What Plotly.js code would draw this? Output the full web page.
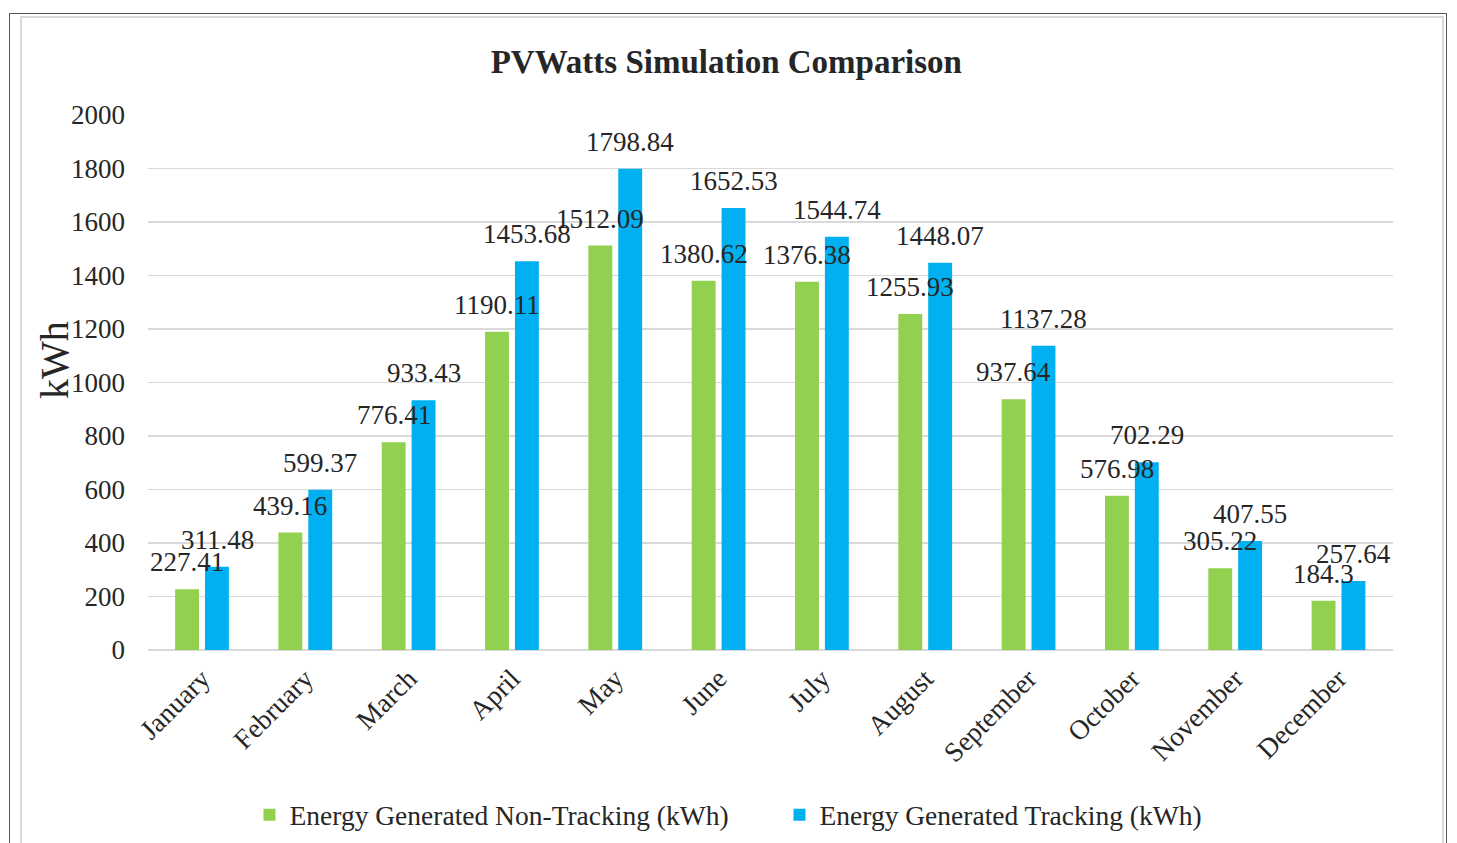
<!DOCTYPE html>
<html>
<head>
<meta charset="utf-8">
<script src="https://cdn.plot.ly/plotly-3.0.1.min.js"></script>
<style>
  html, body { margin: 0; padding: 0; background: #ffffff; }
  #wrap { position: relative; width: 1457px; height: 843px; overflow: hidden; }
  #outer { position: absolute; left: 9px; top: 13px; width: 1436px; height: 900px;
           border-left: 1.5px solid #555; border-top: 1.5px solid #555; border-right: 1.5px solid #555; }
  #inner { position: absolute; left: 20px; top: 16px; width: 1420px; height: 900px;
           border-left: 2px solid #d9d9d9; border-top: 2px solid #d9d9d9; border-right: 2px solid #d9d9d9; }
  #chart { position: absolute; left: 0; top: 0; width: 1457px; height: 843px; }
</style>
</head>
<body>
<div id="wrap">
  <div id="outer"></div>
  <div id="inner"></div>
  <div id="chart"></div>
</div>
<script>
const months = ["January","February","March","April","May","June","July","August","September","October","November","December"];
const nonTracking = [227.41, 439.16, 776.41, 1190.11, 1512.09, 1380.62, 1376.38, 1255.93, 937.64, 576.98, 305.22, 184.3];
const tracking = [311.48, 599.37, 933.43, 1453.68, 1798.84, 1652.53, 1544.74, 1448.07, 1137.28, 702.29, 407.55, 257.64];
const yTicks = [0, 200, 400, 600, 800, 1000, 1200, 1400, 1600, 1800, 2000];
const seriesNames = ["Energy Generated Non-Tracking (kWh)", "Energy Generated Tracking (kWh)"];

const FONT = "'Liberation Serif', 'Times New Roman', serif";
const TXT = "#262626";
const GREEN = "#92D050";
const BLUE = "#00B0F0";

const traces = [
  { type: "bar", name: seriesNames[0], x: months, y: nonTracking, marker: { color: GREEN }, hoverinfo: "none" },
  { type: "bar", name: seriesNames[1], x: months, y: tracking, marker: { color: BLUE }, hoverinfo: "none" }
];

const annotations = [];
months.forEach((m, i) => {
  annotations.push({ x: m, y: nonTracking[i], xref: "x", yref: "y", text: String(nonTracking[i]),
    showarrow: false, xshift: -15, yshift: 10, yanchor: "bottom", xanchor: "center",
    font: { family: FONT, size: 27, color: TXT } });
  annotations.push({ x: m, y: tracking[i], xref: "x", yref: "y", text: String(tracking[i]),
    showarrow: false, xshift: 15, yshift: 10, yanchor: "bottom", xanchor: "center",
    font: { family: FONT, size: 27, color: TXT } });
});
annotations.push({ xref: "paper", yref: "paper", x: -0.0755, y: 0.542, xanchor: "center", yanchor: "middle",
  text: "kWh", textangle: -90, showarrow: false, font: { family: FONT, size: 40, color: TXT } });

const layout = {
  width: 1457, height: 843,
  margin: { l: 148, r: 64, t: 115, b: 193, autoexpand: false },
  paper_bgcolor: "rgba(0,0,0,0)",
  plot_bgcolor: "rgba(0,0,0,0)",
  font: { family: FONT, color: TXT, size: 27 },
  title: { text: "<b>PVWatts Simulation Comparison</b>", x: 0.4985, xanchor: "center", y: 0.927, yanchor: "middle",
           font: { family: FONT, size: 33, color: TXT } },
  barmode: "group",
  bargap: 0.4217,
  bargroupgap: 0.2,
  showlegend: true,
  legend: { orientation: "h", x: 0.0815, xanchor: "left", y: -0.308, yanchor: "middle",
            font: { family: FONT, size: 27.5, color: TXT }, itemwidth: 30, entrywidth: 485, traceorder: "normal" },
  xaxis: { type: "category", tickangle: -45, showgrid: false, showline: false, zeroline: false, automargin: false,
           ticks: "", ticklabelstandoff: 6, tickfont: { family: FONT, size: 27.5, color: TXT } },
  yaxis: { range: [0, 2000], tickvals: yTicks, ticktext: yTicks.map(String), showgrid: true,
           gridcolor: "#d9d9d9", gridwidth: 1.5, zeroline: true, zerolinecolor: "#d9d9d9", zerolinewidth: 1.5,
           showline: false, ticks: "", ticklen: 0, ticklabelstandoff: 22,
           tickfont: { family: FONT, size: 27, color: TXT }, automargin: false },
  annotations: annotations
};

Plotly.newPlot("chart", traces, layout, { displayModeBar: false, staticPlot: true });
</script>
</body>
</html>
